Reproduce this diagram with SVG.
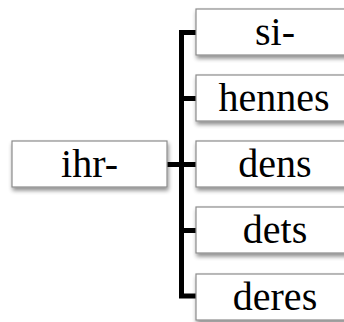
<svg xmlns="http://www.w3.org/2000/svg" width="344" height="322" viewBox="0 0 344 322">
<defs>
<filter id="sh" x="-10%" y="-20%" width="130%" height="160%">
<feGaussianBlur in="SourceAlpha" stdDeviation="2"/>
<feOffset dx="1" dy="3" result="b"/>
<feComponentTransfer><feFuncA type="linear" slope="0.45"/></feComponentTransfer>
<feMerge><feMergeNode/><feMergeNode in="SourceGraphic"/></feMerge>
</filter>
<style>
.box{fill:#fff;stroke:#8c8c8c;stroke-width:1.2;filter:url(#sh)}
.t{font-family:"Liberation Serif","DejaVu Serif",serif;font-size:40px;fill:#000;text-anchor:middle}
.c{stroke:#000;stroke-width:5;fill:none;stroke-linejoin:miter}
</style>
</defs>
<rect width="344" height="322" fill="#fff"/>
<g id="connectors">
<path class="c" d="M196 32.5 H181.5 V296 H196"/>
<path class="c" d="M181.5 98.5 H196 M181.5 230.5 H196 M167 164.5 H196"/>
</g>
<g id="n-ihr"><rect class="box" x="12" y="141" width="155" height="46"/><text class="t" x="89.5" y="177">ihr-</text></g>
<g id="n-si"><rect class="box" x="196" y="9" width="158" height="46"/><text class="t" x="275" y="45">si-</text></g>
<g id="n-hennes"><rect class="box" x="196" y="75" width="158" height="46"/><text class="t" x="274" y="111">hennes</text></g>
<g id="n-dens"><rect class="box" x="196" y="141" width="158" height="46"/><text class="t" x="275" y="177">dens</text></g>
<g id="n-dets"><rect class="box" x="196" y="207" width="158" height="46"/><text class="t" x="275" y="243">dets</text></g>
<g id="n-deres"><rect class="box" x="196" y="274" width="158" height="46"/><text class="t" x="275" y="310">deres</text></g>
</svg>
